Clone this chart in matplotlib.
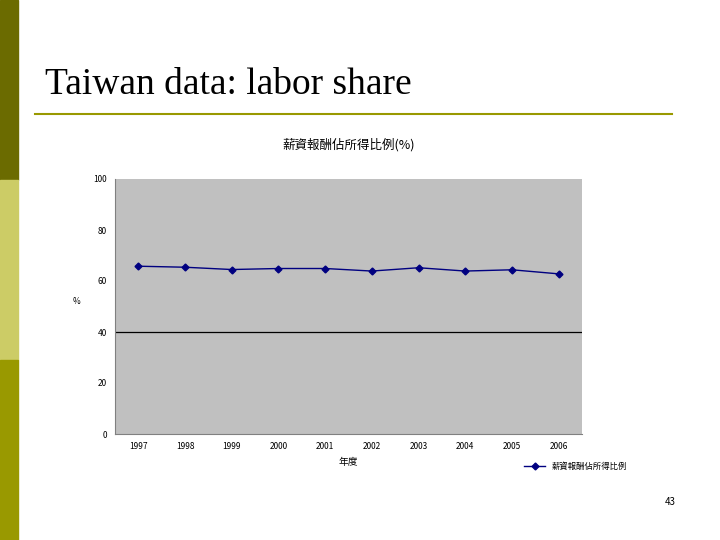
import matplotlib
matplotlib.use("Agg")
import matplotlib.pyplot as plt
from matplotlib.patches import Rectangle
from matplotlib.lines import Line2D

plt.rcParams['font.family'] = ['Noto Sans CJK TC', 'DejaVu Sans']

years = ['1997','1998','1999','2000','2001','2002','2003','2004','2005','2006']
share = [65.8, 65.4, 64.5, 64.9, 64.9, 63.9, 65.2, 63.9, 64.4, 62.8]
yticks = [0, 20, 40, 60, 80, 100]

fig = plt.figure(figsize=(7.2, 5.4), dpi=100)
fig.patch.set_facecolor('white')
# side bars
for y0, h, c in [(2/3, 1/3, '#6b6b00'), (1/3, 1/3, '#cccc66'), (0, 1/3, '#999900')]:
    fig.add_artist(Rectangle((0, y0), 18/720, h, transform=fig.transFigure, color=c, zorder=0))
fig.text(45/720, 1-85/540, 'Taiwan data: labor share', family='Liberation Serif',
         fontsize=27, va='center', ha='left', color='black')
fig.add_artist(Line2D([35/720, 672/720], [1-114/540]*2, transform=fig.transFigure,
                      color='#999900', lw=1.5))
fig.text(676/720, 1-502/540, '43', fontsize=7, ha='right', va='center')

ax = fig.add_axes([115/720, 1-434/540, 467/720, 255/540])
ax.set_facecolor('#c0c0c0')
x = list(range(len(years)))
ax.plot(x, share, color='#000080', marker='D', markersize=3.5, lw=1, label='薪資報酬佔所得比例')
ax.axhline(40, color='black', lw=0.9)
ax.set_xlim(-0.5, len(years)-0.5)
ax.set_ylim(0, 100)
ax.set_yticks(yticks)
ax.set_xticks(x)
ax.set_xticklabels(years)
ax.tick_params(labelsize=6, length=0, pad=6)
for s in ['top', 'right']:
    ax.spines[s].set_visible(False)
for s in ['left', 'bottom']:
    ax.spines[s].set_color('#808080')
ax.set_title('薪資報酬佔所得比例(%)', fontsize=9, pad=22)
ax.set_xlabel('年度', fontsize=7, labelpad=4)
ax.set_ylabel('%', fontsize=6, rotation=0, labelpad=12)
ax.legend(loc='upper left', bbox_to_anchor=(0.86, -0.08), frameon=False, fontsize=6,
          handlelength=2.5)
fig.savefig('out.png', dpi=100)
